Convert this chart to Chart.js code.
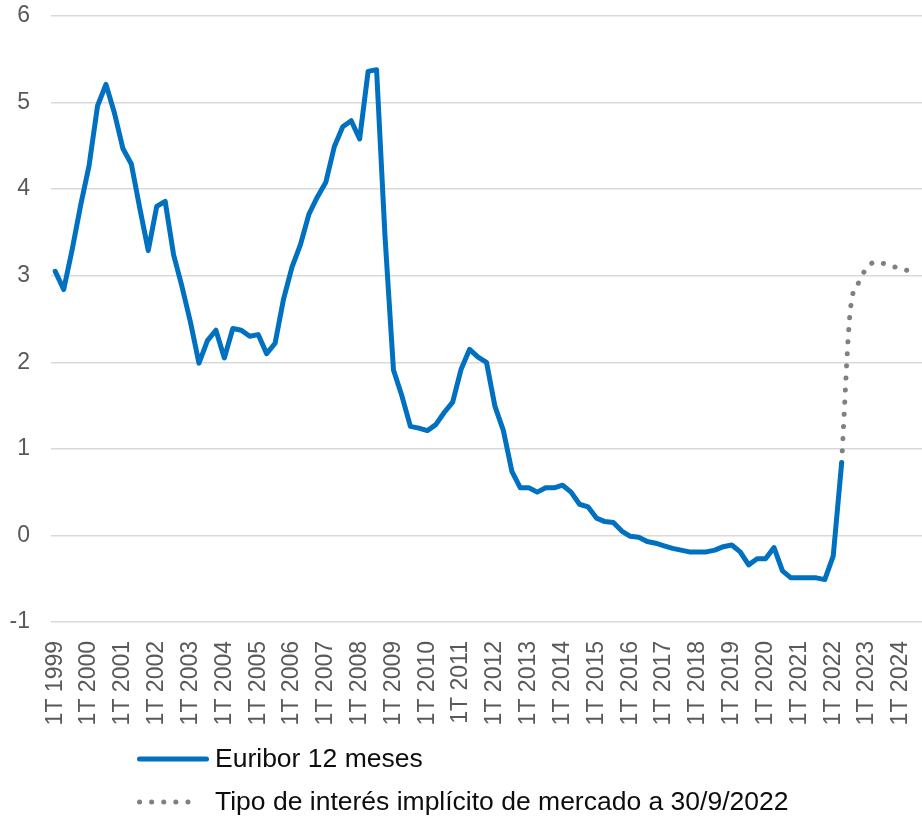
<!DOCTYPE html>
<html lang="es">
<head>
<meta charset="utf-8">
<title>Euribor 12 meses</title>
<script src="https://cdn.jsdelivr.net/npm/chart.js@4.4.1/dist/chart.umd.min.js"></script>
<style>
  html, body { margin: 0; padding: 0; background: #fff; overflow: hidden; }
  #wrap { position: relative; width: 922px; height: 818px; }
  #leyenda {
    position: absolute; left: 137px; top: 737px;
    font-family: 'Liberation Sans', Arial, sans-serif;
    font-size: 26.5px; color: #0d0d0d;
  }
  .fila { display: flex; align-items: center; height: 43px; white-space: nowrap; }
  .fila svg { margin-right: 6px; }
</style>
</head>
<body>
<div id="wrap">
  <canvas id="grafico" width="922" height="818"></canvas>
  <div id="leyenda"></div>
</div>
<script>
const fuente = "'Liberation Sans', Arial, sans-serif";

// trimestres 1T 1999 .. 3T 2024
const anios = [1999, 2000, 2001, 2002, 2003, 2004, 2005, 2006, 2007, 2008, 2009, 2010, 2011,
               2012, 2013, 2014, 2015, 2016, 2017, 2018, 2019, 2020, 2021, 2022, 2023, 2024];
const trimestres = [];
anios.forEach(a => { for (let q = 1; q <= 4; q++) trimestres.push(q + 'T ' + a); });
trimestres.length = 103;

// Euribor 12 meses, dato del último mes de cada trimestre (1T 1999 - 2T 2022)
const euribor = [
  3.05, 2.84, 3.30, 3.81,   // 1999
  4.27, 4.96, 5.21, 4.88,   // 2000
  4.47, 4.29, 3.78, 3.29,   // 2001
  3.80, 3.86, 3.24, 2.87,   // 2002
  2.46, 1.99, 2.25, 2.37,   // 2003
  2.05, 2.39, 2.37, 2.30,   // 2004
  2.32, 2.10, 2.22, 2.73,   // 2005
  3.10, 3.36, 3.71, 3.91,   // 2006
  4.08, 4.49, 4.72, 4.79,   // 2007
  4.58, 5.36, 5.38, 3.45,   // 2008
  1.91, 1.61, 1.26, 1.24,   // 2009
  1.21, 1.28, 1.42, 1.54,   // 2010
  1.92, 2.15, 2.06, 2.00,   // 2011
  1.49, 1.21, 0.74, 0.55,   // 2012
  0.55, 0.50, 0.55, 0.55,   // 2013
  0.58, 0.50, 0.36, 0.33,   // 2014
  0.20, 0.16, 0.15, 0.05,   // 2015
  -0.01, -0.02, -0.07, -0.09, // 2016
  -0.12, -0.15, -0.17, -0.19, // 2017
  -0.19, -0.19, -0.17, -0.13, // 2018
  -0.11, -0.19, -0.34, -0.27, // 2019
  -0.27, -0.14, -0.41, -0.49, // 2020
  -0.49, -0.49, -0.49, -0.51, // 2021
  -0.24, 0.84                 // 2022
];

// tipo implícito de mercado, desde 2T 2022
const inicioImplicito = '2T 2022';
const implicito = [0.84, 2.58, 2.92, 3.09, 3.16, 3.14, 3.11, 3.08, 3.06, 3.07];

const desde = trimestres.indexOf(inicioImplicito);
const serieImplicita = trimestres.map((t, i) =>
  i >= desde && i - desde < implicito.length ? implicito[i - desde] : null);

const grafico = new Chart(document.getElementById('grafico'), {
  type: 'line',
  data: {
    labels: trimestres,
    datasets: [{
      label: 'Euribor 12 meses',
      data: euribor,
      borderColor: '#0070c0',
      borderWidth: 5,
      borderJoinStyle: 'round',
      borderCapStyle: 'round',
      pointRadius: 0,
      tension: 0
    }, {
      label: 'Tipo de interés implícito de mercado a 30/9/2022',
      data: serieImplicita,
      borderColor: '#808080',
      borderWidth: 5,
      borderDash: [0.1, 12],
      borderCapStyle: 'round',
      cubicInterpolationMode: 'monotone',
      pointRadius: 0,
      spanGaps: false
    }]
  },
  options: {
    responsive: false,
    animation: false,
    layout: { padding: { top: 16, right: 0, bottom: 86, left: 0 } },
    plugins: {
      legend: { display: false },
      tooltip: { enabled: false }
    },
    scales: {
      x: {
        offset: true,
        grid: { display: false, drawTicks: false },
        border: { display: false },
        ticks: {
          autoSkip: false,
          minRotation: 90,
          maxRotation: 90,
          padding: 19,
          color: '#595959',
          font: { family: fuente, size: 23 },
          callback: (v, i) => (i % 4 === 0 ? trimestres[i] : '')
        },
        afterFit: s => { s.height = 110; s.paddingLeft = 0; s.paddingRight = 0; }
      },
      y: {
        min: -1,
        max: 6,
        grid: { color: '#d9d9d9', lineWidth: 1.5, drawTicks: false },
        border: { display: false },
        ticks: {
          stepSize: 1,
          padding: 21,
          color: '#595959',
          font: { family: fuente, size: 23 }
        },
        afterFit: s => { s.width = 51; s.paddingTop = 0; s.paddingBottom = 0; }
      }
    }
  }
});

// leyenda en dos filas, debajo del eje
const leyenda = document.getElementById('leyenda');
grafico.data.datasets.forEach(ds => {
  const fila = document.createElement('div');
  fila.className = 'fila';
  const punteado = ds.borderDash ? 'stroke-dasharray="0.1 12"' : '';
  const fin = ds.borderDash ? 63 : 69.5;
  fila.innerHTML =
    '<svg width="72" height="10"><line x1="2.5" y1="5" x2="' + fin + '" y2="5" stroke="' +
    ds.borderColor + '" stroke-width="5" stroke-linecap="round" ' + punteado + '/></svg>' +
    '<span>' + ds.label + '</span>';
  leyenda.appendChild(fila);
});
</script>
</body>
</html>
